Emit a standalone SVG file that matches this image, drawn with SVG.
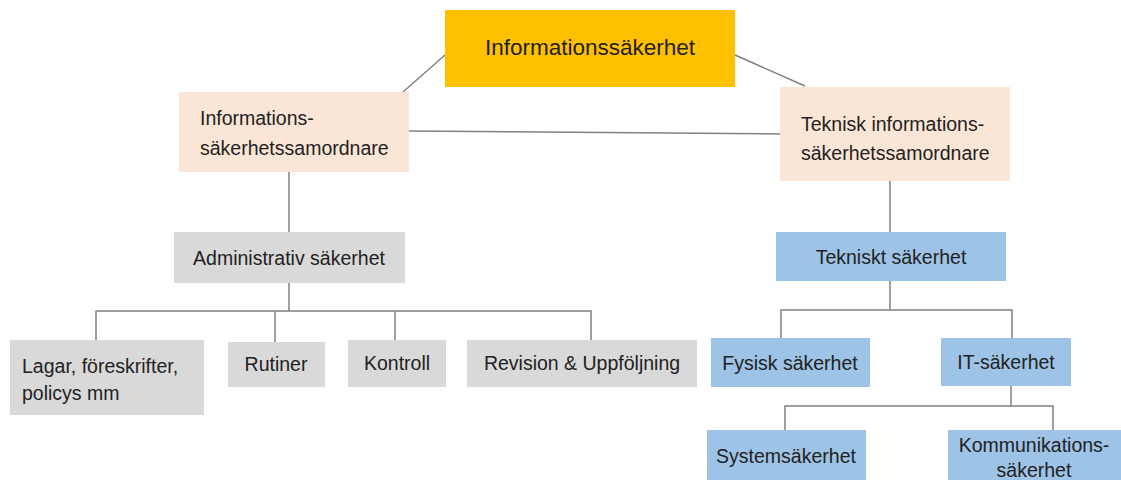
<svg xmlns="http://www.w3.org/2000/svg" width="1121" height="480" viewBox="0 0 1121 480">
<style>
text{font-family:"Liberation Sans",Arial,sans-serif;font-size:19.5px;fill:#222}
.c{text-anchor:middle}
.ln{stroke:#808080;stroke-width:1.5;fill:none}
.gold{fill:#FFC000}
.pink{fill:#FBE5D6}
.gray{fill:#D9D9D9}
.blue{fill:#9DC3E6}
</style>
<rect width="1121" height="480" fill="#fff"/>
<g id="connectors" class="ln">
<line x1="445" y1="55" x2="403" y2="92"/>
<line x1="735" y1="55" x2="805" y2="86"/>
<line x1="409" y1="131" x2="780" y2="134"/>
<line x1="289" y1="172" x2="289" y2="232"/>
<polyline points="289,283 289,311"/>
<polyline points="96,340 96,311 591,311 591,340"/>
<line x1="275" y1="311" x2="275" y2="342"/>
<line x1="395" y1="311" x2="395" y2="340"/>
<line x1="890" y1="181" x2="890" y2="232"/>
<line x1="890" y1="281" x2="890" y2="310"/>
<polyline points="781,338 781,310 1012,310 1012,338"/>
<line x1="1011" y1="386" x2="1011" y2="406"/>
<polyline points="785,430 785,406 1053,406 1053,430"/>
</g>
<g id="n-info"><rect class="gold" x="445" y="10" width="290" height="77"/><text class="c" x="590" y="55" style="font-size:22.5px">Informationssäkerhet</text></g>
<g id="n-isa"><rect class="pink" x="179" y="92" width="230" height="80"/><text x="200" y="125">Informations-</text><text x="200" y="155">säkerhetssamordnare</text></g>
<g id="n-tisa"><rect class="pink" x="780" y="87" width="230" height="94"/><text x="801" y="131">Teknisk informations-</text><text x="801" y="160">säkerhetssamordnare</text></g>
<g id="n-adm"><rect class="gray" x="174" y="232" width="231" height="51"/><text class="c" x="289" y="265">Administrativ säkerhet</text></g>
<g id="n-lagar"><rect class="gray" x="10" y="340" width="194" height="75"/><text x="22" y="373">Lagar, föreskrifter,</text><text x="22" y="400">policys mm</text></g>
<g id="n-rutiner"><rect class="gray" x="228" y="342" width="97" height="45"/><text class="c" x="276" y="371">Rutiner</text></g>
<g id="n-kontroll"><rect class="gray" x="348" y="340" width="98" height="47"/><text class="c" x="397" y="370">Kontroll</text></g>
<g id="n-revision"><rect class="gray" x="467" y="340" width="230" height="47"/><text class="c" x="582" y="370">Revision &amp; Uppföljning</text></g>
<g id="n-tek"><rect class="blue" x="776" y="232" width="230" height="49"/><text class="c" x="891" y="264">Tekniskt säkerhet</text></g>
<g id="n-fys"><rect class="blue" x="711" y="338" width="159" height="49"/><text class="c" x="790" y="370">Fysisk säkerhet</text></g>
<g id="n-it"><rect class="blue" x="941" y="338" width="130" height="48"/><text class="c" x="1006" y="369">IT-säkerhet</text></g>
<g id="n-sys"><rect class="blue" x="707" y="430" width="159" height="50"/><text class="c" x="786" y="463">Systemsäkerhet</text></g>
<g id="n-kom"><rect class="blue" x="948" y="430" width="173" height="50"/><text class="c" x="1034" y="452">Kommunikations-</text><text class="c" x="1034" y="477">säkerhet</text></g>
</svg>
